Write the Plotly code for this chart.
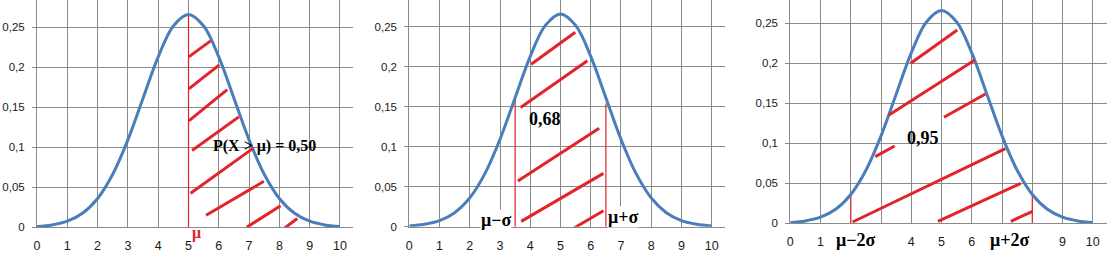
import plotly.graph_objects as go

# ---- data ----
x_vals = [0, 0.5, 1, 1.5, 2, 2.5, 3, 3.5, 4, 4.5, 5, 5.5, 6, 6.5, 7, 7.5, 8, 8.5, 9, 9.5, 10]
density = [0.001, 0.003, 0.0076, 0.0175, 0.036, 0.0663, 0.1093, 0.1613, 0.213, 0.2516, 0.266,
           0.2516, 0.213, 0.1613, 0.1093, 0.0663, 0.036, 0.0175, 0.0076, 0.003, 0.001]

x_ticks = [0, 1, 2, 3, 4, 5, 6, 7, 8, 9, 10]
x_ticktext_full = ["0", "1", "2", "3", "4", "5", "6", "7", "8", "9", "10"]
x_ticktext_p3 = ["0", "1", "", "", "4", "5", "6", "", "", "9", "10"]
y_ticks = [0, 0.05, 0.1, 0.15, 0.2, 0.25]
y_ticktext = ["0", "0,05", "0,1", "0,15", "0,2", "0,25"]

# hatch segments (x0, y0, x1, y1) in data units
p1_hatch = [(5.01, 0.213, 5.73, 0.233), (5.01, 0.173, 6.02, 0.203), (5.01, 0.133, 6.28, 0.172),
            (5.12, 0.096, 6.66, 0.138), (5.07, 0.0425, 7.14, 0.099), (5.58, 0.015, 7.49, 0.0575),
            (6.92, 0.0, 8.04, 0.027), (8.17, -0.001, 8.59, 0.011)]
p2_hatch = [(4.03, 0.203, 5.49, 0.243), (3.68, 0.149, 5.89, 0.2075), (3.59, 0.057, 6.28, 0.123),
            (3.70, 0.0067, 6.42, 0.0667), (5.45, -0.0016, 6.42, 0.02)]
p3_hatch = [(3.98, 0.2, 5.52, 0.2416), (3.25, 0.135, 6.10, 0.204), (5.08, 0.1325, 6.45, 0.1616),
            (2.81, 0.0833, 3.45, 0.0966), (2.06, 0.0016, 7.11, 0.0933), (4.88, 0.0025, 7.62, 0.05),
            (7.29, 0.0025, 8.01, 0.015)]
# vertical red markers (x, y_bottom, y_top)
p1_vlines = [(5.0, 0.0, 0.266)]
p2_vlines = [(3.5, 0.0, 0.1613), (6.5, 0.0, 0.154)]
p3_vlines = [(2.0, 0.0, 0.036), (8.0, 0.0, 0.0335)]

# ---- styles ----
BLUE = "#4a7ebb"
RED = "#e3232b"
GRID = "#8a8a8a"
YTICKFONT = dict(family="Liberation Sans", size=11.5, color="#1a1a1a")
XTICKFONT = dict(family="Liberation Sans", size=12.5, color="#1a1a1a")
SERIF = "Liberation Serif"

W, H = 1110, 262
panels = [
    dict(xl=37.0, xr=353.0, yb=227.3, xmax=10.43, hatch=p1_hatch, vl=p1_vlines, xt=x_ticktext_full),
    dict(xl=409.3, xr=725.0, yb=226.7, xmax=10.44, hatch=p2_hatch, vl=p2_vlines, xt=x_ticktext_full),
    dict(xl=790.3, xr=1106.7, yb=223.3, xmax=10.46, hatch=p3_hatch, vl=p3_vlines, xt=x_ticktext_p3),
]

fig = go.Figure()
layout = dict(template="none", width=W, height=H, margin=dict(l=0, r=0, t=0, b=0, pad=0),
              paper_bgcolor="white", plot_bgcolor="white", showlegend=False)

for i, p in enumerate(panels):
    n = "" if i == 0 else str(i + 1)
    xa, ya = "x" + n, "y" + n
    layout["xaxis" + n] = dict(
        domain=[p["xl"] / W, p["xr"] / W], range=[0, p["xmax"]], anchor=ya,
        tickvals=x_ticks, ticktext=p["xt"], showgrid=True, gridcolor=GRID, gridwidth=1,
        showline=True, linecolor=GRID, linewidth=1, zeroline=False, ticks="",
        tickfont=XTICKFONT, ticklabelstandoff=7, automargin=False, fixedrange=True)
    ymax = p["yb"] / 800.0
    layout["yaxis" + n] = dict(
        domain=[(H - p["yb"]) / H, 1], range=[0, ymax], anchor=xa,
        tickvals=y_ticks, ticktext=y_ticktext, showgrid=True, gridcolor=GRID, gridwidth=1,
        showline=True, linecolor=GRID, linewidth=1, zeroline=False, ticks="outside",
        ticklen=4, tickcolor=GRID, tickfont=YTICKFONT, ticklabelstandoff=5,
        automargin=False, fixedrange=True)

    # red vertical lines
    vx, vy = [], []
    for (x, y0, y1) in p["vl"]:
        vx += [x, x, None]
        vy += [y0, y1, None]
    fig.add_trace(go.Scatter(x=vx, y=vy, mode="lines", xaxis=xa, yaxis=ya,
                             line=dict(color=RED, width=1.2), hoverinfo="skip"))
    # curve
    fig.add_trace(go.Scatter(x=x_vals, y=density, mode="lines", xaxis=xa, yaxis=ya,
                             line=dict(color=BLUE, width=3, shape="spline", smoothing=1.0),
                             hoverinfo="skip"))
    # hatching
    hx, hy = [], []
    for (x0, y0, x1, y1) in p["hatch"]:
        hx += [x0, x1, None]
        hy += [y0, y1, None]
    fig.add_trace(go.Scatter(x=hx, y=hy, mode="lines", xaxis=xa, yaxis=ya,
                             line=dict(color=RED, width=3), hoverinfo="skip"))

fig.update_layout(**layout)

big = dict(family=SERIF, size=18, color="black")
mid = dict(family=SERIF, size=16, color="black")
ann = [
    dict(x=7.52, y=0.1016, xref="x", yref="y", text="<b>P(X &gt; μ) = 0,50</b>", font=mid),
    dict(x=5.28, y=(H - 232.5) / H, xref="x", yref="paper", text="<b>μ</b>",
         font=dict(family=SERIF, size=16, color=RED)),
    dict(x=4.49, y=0.1346, xref="x2", yref="y2", text="<b>0,68</b>", font=big),
    dict(x=2.86, y=0.0084, xref="x2", yref="y2", text="<b>μ−σ</b>", font=big, bgcolor="white"),
    dict(x=7.08, y=0.012, xref="x2", yref="y2", text="<b>μ+σ</b>", font=big, bgcolor="white"),
    dict(x=4.38, y=0.1066, xref="x3", yref="y3", text="<b>0,95</b>", font=big),
    dict(x=2.17, y=(H - 240) / H, xref="x3", yref="paper", text="<b>μ−2σ</b>", font=big,
         bgcolor="white"),
    dict(x=7.24, y=(H - 240) / H, xref="x3", yref="paper", text="<b>μ+2σ</b>", font=big,
         bgcolor="white"),
]
for a in ann:
    a.update(showarrow=False, xanchor="center", yanchor="middle", borderpad=0)
fig.update_layout(annotations=ann)

fig.write_html("out.html")
